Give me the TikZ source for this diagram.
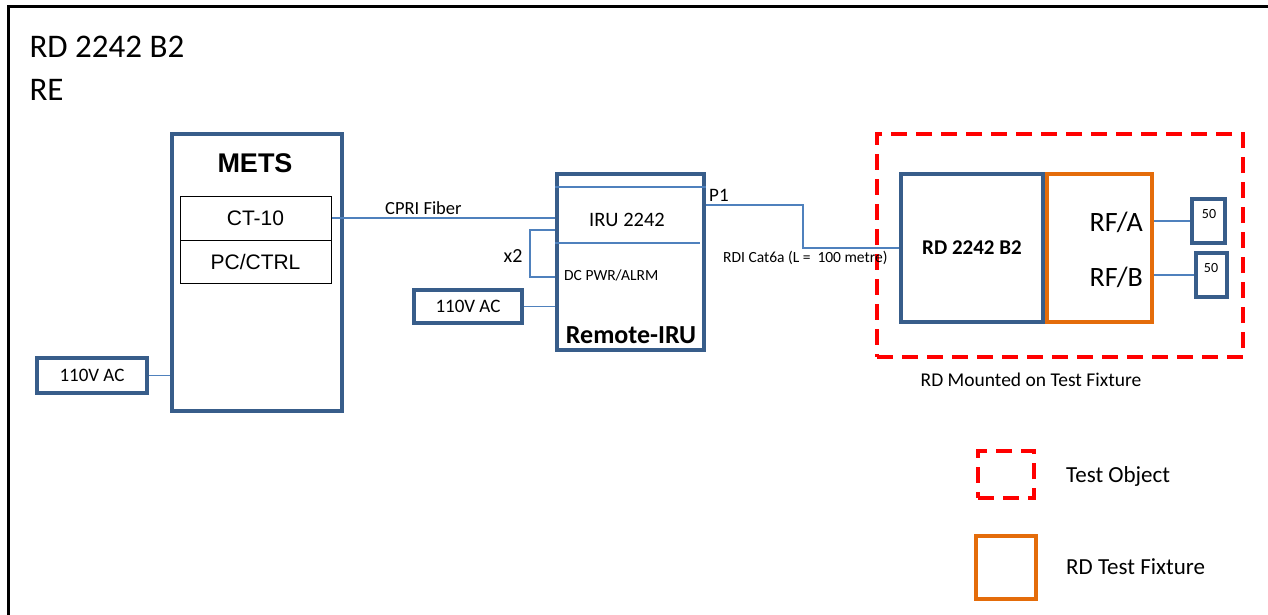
\documentclass[tikz,border=0pt]{standalone}
\usepackage{fontspec}
\setmainfont{Carlito}
\newfontfamily\arialf{Liberation Sans}
\newcommand{\fsz}[1]{\fontsize{#1}{#1}\selectfont}
\definecolor{boxblue}{RGB}{56,93,138}
\definecolor{wireblue}{RGB}{79,129,189}
\definecolor{fixorange}{RGB}{228,108,10}
\definecolor{objred}{RGB}{255,0,0}
\begin{document}
\begin{tikzpicture}[x=1pt, y=-1pt,
    bluebox/.style={draw=boxblue, line width=4, inner sep=0, fill=white},
    thinbox/.style={draw=black, line width=1, inner sep=0},
    orangebox/.style={draw=fixorange, line width=4.5, inner sep=0},
    redbox/.style={draw=objred, line width=4, dash pattern=on 16 off 9, inner sep=0},
    wire/.style={draw=wireblue, line width=1.1}]
    \useasboundingbox (0,0) rectangle (1268,615);
    \draw[line width=3] (8,615) |- (1268,7);

    \node[anchor=base west, font=\fsz{33}] (title) at (26,58) {RD 2242 B2};
    \node[anchor=base west, font=\fsz{33}] (re) at (26,101) {RE};

    \node[bluebox, minimum width=170, minimum height=277] (mets) at (257,272.5) {};
    \node[anchor=base, font=\arialf\bfseries\fsz{27}] (metslbl) at (255,172) {METS};
    \node[thinbox, minimum width=151, minimum height=44, font=\arialf\fsz{21}] (ct) at (255.5,218) {CT-10};
    \node[thinbox, minimum width=151, minimum height=43, font=\arialf\fsz{21}] (pc) at (255.5,261.5) {PC/CTRL};
    \node[bluebox, minimum width=110, minimum height=35, font=\fsz{19}] (acl) at (92,375.5) {110V AC};

    \node[bluebox, minimum width=147, minimum height=176] (iru) at (630.5,262) {};
    \node[bluebox, minimum width=108, minimum height=33, font=\fsz{19}] (acm) at (468,306.5) {110V AC};

    \node[redbox, minimum width=366, minimum height=223] (tobj) at (1060,245.5) {};
    \node[orangebox, minimum width=105, minimum height=148] (fix) at (1099.5,248) {};
    \node[bluebox, minimum width=142, minimum height=148, font=\bfseries\fsz{21}] (rd) at (972,248) {RD 2242 B2};
    \node[bluebox, minimum width=33, minimum height=44] (lda) at (1208.5,221) {};
    \node[bluebox, minimum width=31, minimum height=44] (ldb) at (1211.5,275) {};

    % remote iru inside
    \draw[wire] (iru.west |- 0,187) -- (iru.east |- 0,187);
    \draw[wire] (iru.west |- 0,243) -- (700,243);
    \node[font=\fsz{20.5}] (irulbl) at (627,220) {IRU 2242};
    \node[anchor=west, font=\fsz{15.5}, inner sep=0] (dclbl) at (564,275) {DC PWR/ALRM};
    \node[anchor=base, font=\bfseries\fsz{26}] (remlbl) at (631,343) {Remote-IRU};

    % cables
    \draw[wire] (ct.east) -- (ct.east -| iru.west);
    \node[anchor=base west, font=\fsz{18.5}, inner sep=0] (cpri) at (385,214) {CPRI Fiber};
    \draw[wire] (acl.east) -- (acl.east -| mets.west);
    \draw[wire] (acm.east) -- (acm.east -| iru.west);
    \coordinate (xtop) at (530,230);
    \coordinate (xbot) at (530,277);
    \draw[wire] (iru.west |- xtop) -- (xtop) -- (xbot) -- (iru.west |- xbot);
    \node[font=\fsz{20}] (x2) at (513,256) {x2};

    \coordinate (bend) at (803,248);
    \draw[wire] (iru.east |- 0,205) -| (bend) -- (rd.west);
    \node[anchor=base west, font=\fsz{19}, inner sep=0] (p1) at (709,201) {P1};
    \node[anchor=base west, font=\fsz{15.5}, inner sep=0] (rdi) at (723,262) {RDI Cat6a (L =\ \ 100 metre)};

    \node[anchor=east, font=\fsz{28}, inner sep=0] (rfa) at (1143,222) {RF/A};
    \node[anchor=east, font=\fsz{28}, inner sep=0] (rfb) at (1143,277) {RF/B};
    \draw[wire] (fix.east |- lda.west) -- (lda.west);
    \draw[wire] (fix.east |- ldb.west) -- (ldb.west);
    \node[font=\fsz{14}] (fa) at (1209,214) {50};
    \node[font=\fsz{14}] (fb) at (1211,268) {50};

    \node[font=\fsz{19.5}] (mnt) at (1031,380) {RD Mounted on Test Fixture};

    % legend
    \node[redbox, minimum width=56, minimum height=47] (legr) at (1006,474.5) {};
    \node[orangebox, minimum width=60, minimum height=63] (lego) at (1006,567.5) {};
    \node[anchor=west, font=\fsz{23}, inner sep=0] (legrl) at (1066,476) {Test Object};
    \node[anchor=west, font=\fsz{23}, inner sep=0] (legol) at (1066,567) {RD Test Fixture};
\end{tikzpicture}
\end{document}
